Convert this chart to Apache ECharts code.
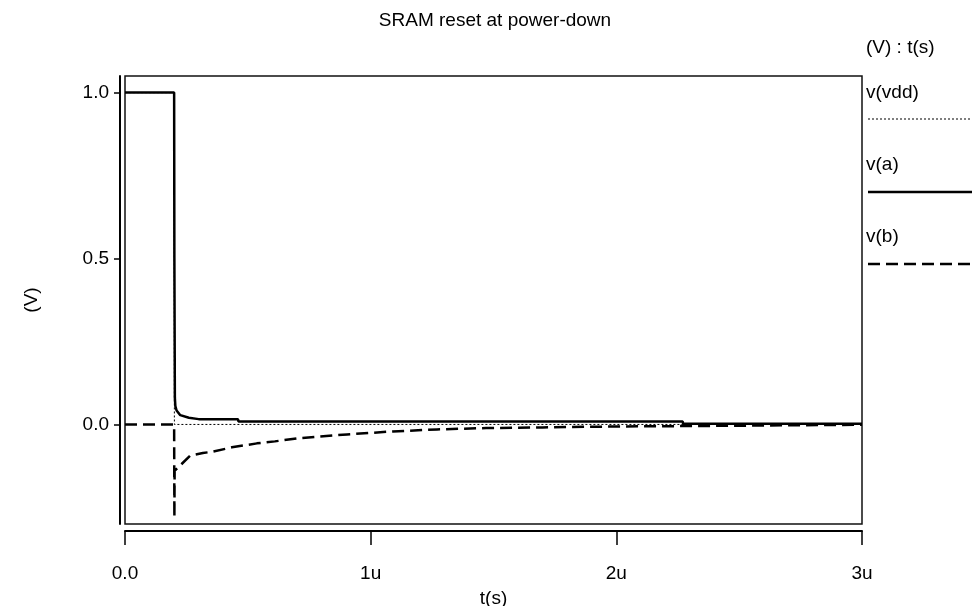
<!DOCTYPE html>
<html>
<head>
<meta charset="utf-8">
<script src="https://cdn.jsdelivr.net/npm/echarts@6/dist/echarts.min.js"></script>
<style>
html,body{margin:0;padding:0;background:#fff;}
#chart{width:972px;height:606px;}
</style>
</head>
<body>
<div id="chart"></div>
<script>
// time in microseconds, voltage in volts
const vddT = [0, 0.2, 0.201, 3.0];
const vddV = [1.0, 1.0, 0.0, 0.0];

const aT = [0, 0.2, 0.201, 0.203, 0.205, 0.21, 0.225, 0.26, 0.3, 0.46, 0.462, 2.27, 2.272, 3.0];
const aV = [1.0, 1.0, 0.5, 0.08, 0.055, 0.042, 0.028, 0.02, 0.016, 0.016, 0.009, 0.009, 0.002, 0.002];

const bT = [0, 0.2, 0.201, 0.202, 0.265, 0.317, 0.358, 0.435, 0.537, 0.61, 0.702, 0.904, 1.09, 1.27, 1.47, 1.70, 2.0, 2.27, 2.272, 3.0];
const bV = [0, 0, -0.28, -0.14, -0.094, -0.086, -0.082, -0.069, -0.057, -0.051, -0.042, -0.030, -0.021, -0.015, -0.011, -0.009, -0.006, -0.005, -0.001, -0.001];

const xTicks = [0, 1, 2, 3];
const xTickLabels = ['0.0', '1u', '2u', '3u'];
const yTicks = [0, 0.5, 1.0];
const yTickLabels = ['0.0', '0.5', '1.0'];

const seriesNames = ['v(vdd)', 'v(a)', 'v(b)'];

const FONT = 'Liberation Sans';
const FS = 19;

function pairs(t, v) { return t.map((x, i) => [x, v[i]]); }

const chart = echarts.init(document.getElementById('chart'), null, {renderer: 'canvas'});

const styles = [
  {width: 1, type: [2, 2]},
  {width: 2.5, type: 'solid'},
  {width: 2.5, type: [12, 6]}
];
const datas = [pairs(vddT, vddV), pairs(aT, aV), pairs(bT, bV)];

const legendLineY = [119, 192, 264];
const legendTextY = [93, 165, 237];
const graphics = [{
  type: 'text', left: 866, top: 48 - 10,
  style: {text: '(V) : t(s)', font: FS + 'px "' + FONT + '"', fill: '#000'}
}];
seriesNames.forEach((n, i) => {
  graphics.push({
    type: 'text', left: 866, top: legendTextY[i] - 10,
    style: {text: n, font: FS + 'px "' + FONT + '"', fill: '#000'}
  });
  graphics.push({
    type: 'line', shape: {x1: 868, y1: legendLineY[i], x2: 972, y2: legendLineY[i]},
    style: {stroke: '#000', lineWidth: styles[i].width, lineDash: Array.isArray(styles[i].type) ? styles[i].type : null}
  });
});

chart.setOption({
  animation: false,
  backgroundColor: '#fff',
  title: {
    text: 'SRAM reset at power-down',
    left: 490, textAlign: 'center', top: 6,
    textStyle: {fontFamily: FONT, fontSize: FS, fontWeight: 'normal', color: '#000'}
  },
  grid: {
    left: 125, right: 110, top: 76, bottom: 82,
    outerBoundsMode: 'none', containLabel: false,
    show: true, borderColor: '#111', borderWidth: 1.5, backgroundColor: '#fff'
  },
  xAxis: {
    type: 'value', min: 0, max: 3, interval: 1, offset: 7,
    name: 't(s)', nameLocation: 'middle', nameGap: 58,
    nameTextStyle: {fontFamily: FONT, fontSize: FS, color: '#000'},
    axisLine: {show: true, onZero: false, lineStyle: {color: '#000', width: 2}},
    axisTick: {show: true, length: 14, inside: false, lineStyle: {color: '#000', width: 1.5}},
    axisLabel: {
      margin: 33, fontFamily: FONT, fontSize: FS, color: '#000',
      formatter: v => { const i = xTicks.indexOf(v); return i >= 0 ? xTickLabels[i] : ''; }
    },
    splitLine: {show: false}
  },
  yAxis: {
    type: 'value', min: -0.3, max: 1.05, offset: 5,
    name: '(V)', nameLocation: 'middle', nameGap: 79,
    nameTextStyle: {fontFamily: FONT, fontSize: FS, color: '#000'},
    axisLine: {show: true, onZero: false, lineStyle: {color: '#000', width: 2}},
    axisTick: {show: true, length: 6, inside: false, customValues: yTicks, lineStyle: {color: '#000', width: 1.5}},
    axisLabel: {
      margin: 11, fontFamily: FONT, fontSize: FS, color: '#000', customValues: yTicks,
      formatter: v => { const i = yTicks.findIndex(t => Math.abs(t - v) < 1e-9); return i >= 0 ? yTickLabels[i] : ''; }
    },
    splitLine: {show: false}
  },
  graphic: graphics,
  series: seriesNames.map((n, i) => ({
    name: n, type: 'line', data: datas[i], showSymbol: false, symbol: 'none',
    z: 2 + i,
    lineStyle: {color: '#000', width: styles[i].width, type: styles[i].type},
    emphasis: {disabled: true}
  }))
});
</script>
</body>
</html>
